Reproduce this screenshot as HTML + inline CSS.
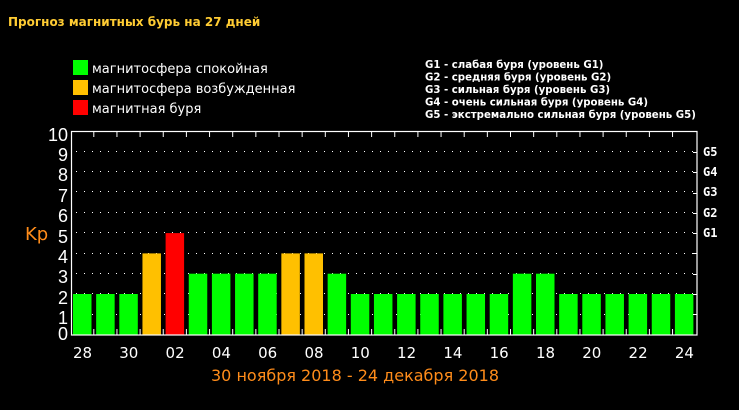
<!DOCTYPE html>
<html><head><meta charset="utf-8"><style>
html,body{margin:0;padding:0;background:#000;}
svg{display:block;}
</style></head><body>
<svg width="739" height="410" viewBox="0 0 739 410" xmlns="http://www.w3.org/2000/svg">
<rect width="739" height="410" fill="#000"/>
<text x="8" y="26" fill="#ffcc33" font-family="DejaVu Sans, Liberation Sans, sans-serif" font-size="12" font-weight="bold">Прогноз магнитных бурь на 27 дней</text>
<rect x="73" y="60" width="15" height="15" fill="#00ff00"/>
<rect x="73" y="80" width="15" height="15" fill="#ffc000"/>
<rect x="73" y="100" width="15" height="15" fill="#ff0000"/>
<g fill="#fff" font-family="DejaVu Sans, Liberation Sans, sans-serif" font-size="13">
<text x="92" y="73">магнитосфера спокойная</text>
<text x="92" y="93">магнитосфера возбужденная</text>
<text x="92" y="113">магнитная буря</text>
</g>
<g fill="#fff" font-family="DejaVu Sans, Liberation Sans, sans-serif" font-size="10.2" font-weight="bold">
<text x="425" y="68">G1 - слабая буря (уровень G1)</text>
<text x="425" y="80.5">G2 - средняя буря (уровень G2)</text>
<text x="425" y="93">G3 - сильная буря (уровень G3)</text>
<text x="425" y="105.5">G4 - очень сильная буря (уровень G4)</text>
<text x="425" y="118">G5 - экстремально сильная буря (уровень G5)</text>
</g>
<g id="grid" stroke="#fff" stroke-width="1" stroke-dasharray="1 7">
<line x1="76" x2="697" y1="151.5" y2="151.5"/>
<line x1="76" x2="697" y1="171.5" y2="171.5"/>
<line x1="76" x2="697" y1="191.5" y2="191.5"/>
<line x1="76" x2="697" y1="212.5" y2="212.5"/>
<line x1="76" x2="697" y1="232.5" y2="232.5"/>
<line x1="76" x2="697" y1="253.5" y2="253.5"/>
<line x1="76" x2="697" y1="273.5" y2="273.5"/>
<line x1="76" x2="697" y1="293.5" y2="293.5"/>
<line x1="76" x2="697" y1="314.5" y2="314.5"/>
</g>
<g id="bars"></g>
<rect x="71.5" y="131.5" width="625.5" height="203.5" fill="none" stroke="#fff" stroke-width="1.2"/>
<g id="ticks" stroke="#fff" stroke-width="1"></g>
<g fill="#fff" font-family="Liberation Sans, sans-serif" font-size="18" text-anchor="end">
<text x="68" y="141">10</text><text x="68" y="161">9</text><text x="68" y="181">8</text>
<text x="68" y="202">7</text><text x="68" y="222">6</text><text x="68" y="243">5</text>
<text x="68" y="263">4</text><text x="68" y="283">3</text><text x="68" y="304">2</text>
<text x="68" y="324">1</text><text x="68" y="340">0</text>
</g>
<text x="25" y="240" fill="#ff8c1a" font-family="DejaVu Sans, Liberation Sans, sans-serif" font-size="18">Kp</text>
<g fill="#fff" font-family="DejaVu Sans Mono, Liberation Mono, monospace" font-size="12" font-weight="bold">
<text x="703" y="156">G5</text><text x="703" y="176">G4</text><text x="703" y="196">G3</text>
<text x="703" y="217">G2</text><text x="703" y="237">G1</text>
</g>
<g id="xl" fill="#fff" font-family="DejaVu Sans, Liberation Sans, sans-serif" font-size="15" text-anchor="middle"></g>
<text x="355" y="381" fill="#ff8c1a" font-family="DejaVu Sans, Liberation Sans, sans-serif" font-size="16" text-anchor="middle">30 ноября 2018 - 24 декабря 2018</text>
<script>
var v=[2,2,2,4,5,3,3,3,3,4,4,3,2,2,2,2,2,2,2,3,3,2,2,2,2,2,2];
var lab=["28","","30","","02","","04","","06","","08","","10","","12","","14","","16","","18","","20","","22","","24"];
var ns="http://www.w3.org/2000/svg",b=document.getElementById("bars"),t=document.getElementById("ticks"),xl=document.getElementById("xl");
var step=23.15,u=20.3,z=334.6;
for(var i=0;i<27;i++){
 var x=73+i*step,r=document.createElementNS(ns,"rect");
 r.setAttribute("x",x);r.setAttribute("width",18.5);r.setAttribute("y",z-v[i]*u);r.setAttribute("height",v[i]*u);
 r.setAttribute("fill",v[i]>=5?"#ff0000":(v[i]==4?"#ffc000":"#00ff00"));b.appendChild(r);
 if(lab[i]){var tx=document.createElementNS(ns,"text");tx.setAttribute("x",x+9.5);tx.setAttribute("y",358);tx.textContent=lab[i];xl.appendChild(tx);}
 if(i<26){var gx=x+20.8;
  var l1=document.createElementNS(ns,"line");l1.setAttribute("x1",gx);l1.setAttribute("x2",gx);l1.setAttribute("y1",131.5);l1.setAttribute("y2",137);t.appendChild(l1);
  var l2=document.createElementNS(ns,"line");l2.setAttribute("x1",gx);l2.setAttribute("x2",gx);l2.setAttribute("y1",329);l2.setAttribute("y2",335);t.appendChild(l2);}
}
for(var k=1;k<10;k++){var y=Math.round(z-k*u)+0.5;
 var l=document.createElementNS(ns,"line");l.setAttribute("x1",693);l.setAttribute("x2",697);l.setAttribute("y1",y);l.setAttribute("y2",y);t.appendChild(l);}
</script>
</svg>
</body></html>
